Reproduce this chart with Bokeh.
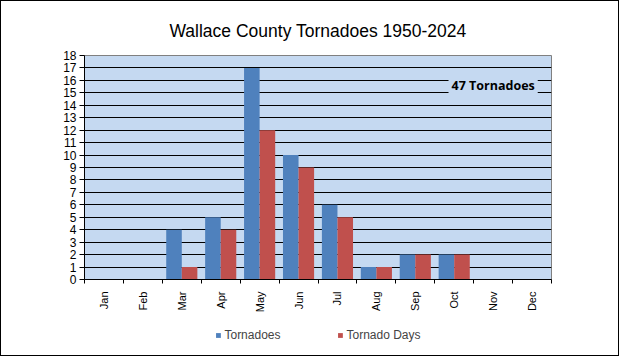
from math import pi
from bokeh.plotting import figure
from bokeh.layouts import column
from bokeh.models import (ColumnDataSource, FactorRange, Range1d, LinearAxis, FixedTicker,
                          Legend, LegendItem, Label, CustomJSTickFormatter)
from bokeh.transform import dodge
from bokeh.embed import file_html
from bokeh.resources import INLINE

# ---- data ----
months = ["Jan", "Feb", "Mar", "Apr", "May", "Jun", "Jul", "Aug", "Sep", "Oct", "Nov", "Dec"]
tornadoes = [0, 0, 4, 5, 17, 10, 6, 1, 2, 2, 0, 0]
tornado_days = [0, 0, 1, 4, 12, 9, 5, 1, 2, 2, 0, 0]
y_ticks = list(range(0, 19))
title_text = "Wallace County Tornadoes 1950-2024"
total_text = "47 Tornadoes"
series_names = ["Tornadoes", "Tornado Days"]

BLUE = "#4F81BD"
RED = "#C0504D"
PLOT_BG = "#C5D9F1"

src = ColumnDataSource(dict(month=months, tornadoes=tornadoes, days=tornado_days))

p = figure(width=617, height=314,
           x_range=FactorRange(*months, range_padding=0, factor_padding=0),
           y_range=Range1d(0, 18),
           output_backend="svg", toolbar_location=None,
           x_axis_location=None,
           min_border_left=83, min_border_right=67, min_border_top=54, min_border_bottom=35,
           title=title_text)

p.background_fill_color = PLOT_BG
p.border_fill_color = "white"
p.outline_line_color = "#808080"
p.outline_line_width = 1

p.title.text_font = "Liberation Sans"
p.title.text_font_size = "17.5px"
p.title.text_font_style = "normal"
p.title.text_color = "black"
p.title.align = "center"
p.title.standoff = 29

# bars
r1 = p.vbar(x=dodge("month", -0.2, range=p.x_range), top="tornadoes", width=0.4,
            source=src, fill_color=BLUE, line_color=None)
r2 = p.vbar(x=dodge("month", 0.2, range=p.x_range), top="days", width=0.4,
            source=src, fill_color=RED, line_color=None)

# y axis
yax = p.yaxis[0]
yax.ticker = FixedTicker(ticks=y_ticks)
yax.axis_line_color = "black"
yax.major_tick_line_color = "black"
yax.major_tick_in = 0
yax.major_tick_out = 5
yax.minor_tick_line_color = None
yax.major_label_standoff = 3
yax.major_label_text_font = "Liberation Sans"
yax.major_label_text_font_size = "12px"
yax.major_label_text_color = "black"

p.ygrid.ticker = FixedTicker(ticks=y_ticks)
p.ygrid.grid_line_color = "black"
p.ygrid.grid_line_width = 1
p.xgrid.grid_line_color = None

# x axis: labels at category centres, tick marks at category boundaries
xax = LinearAxis(ticker=FixedTicker(ticks=[i + 0.5 for i in range(len(months))],
                                    minor_ticks=list(range(len(months) + 1))),
                 formatter=CustomJSTickFormatter(args=dict(labels=months),
                                                 code="return labels[Math.floor(tick)] || ''"))
xax.axis_line_color = "black"
xax.major_tick_line_color = None
xax.major_tick_in = 0
xax.major_tick_out = 0
xax.minor_tick_line_color = "black"
xax.minor_tick_in = 0
xax.minor_tick_out = 4
xax.major_label_orientation = pi / 2
xax.major_label_standoff = 8
xax.major_label_text_font = "Liberation Sans"
xax.major_label_text_font_size = "11px"
xax.major_label_text_color = "black"
p.add_layout(xax, "below")

# annotation
lbl = Label(x=10.5, y=15.6, text=total_text, text_align="center", text_baseline="middle",
            text_font="Open Sans", text_font_style="bold", text_font_size="12.5px",
            text_color="black", background_fill_color=PLOT_BG, padding=3)
p.add_layout(lbl)

# legend strip (separate small figure under the chart; its bars have zero width
# and lie outside its view, so only the legend swatches show)
pl = figure(width=617, height=40,
            x_range=FactorRange(*months, range_padding=0, factor_padding=0),
            y_range=Range1d(-20, -19),
            output_backend="svg", toolbar_location=None,
            x_axis_location=None, y_axis_location=None,
            min_border_left=8, min_border_right=0, min_border_top=0, min_border_bottom=0)
pl.outline_line_color = None
pl.background_fill_color = "white"
pl.border_fill_color = "white"
pl.xgrid.grid_line_color = None
pl.ygrid.grid_line_color = None
lr1 = pl.vbar(x="month", top="tornadoes", bottom="tornadoes", width=0,
              source=src, fill_color=BLUE, line_color=None)
lr2 = pl.vbar(x="month", top="days", bottom="days", width=0,
              source=src, fill_color=RED, line_color=None)

legend = Legend(items=[LegendItem(label=series_names[0], renderers=[lr1]),
                       LegendItem(label=series_names[1], renderers=[lr2])],
                orientation="horizontal", location="center",
                border_line_color=None, background_fill_alpha=0,
                glyph_width=6, glyph_height=6, label_standoff=4, spacing=56,
                label_height=14,
                label_text_font="Liberation Sans", label_text_font_size="12px",
                padding=0, margin=0)
pl.add_layout(legend, "center")

layout = column(p, pl, spacing=0, styles={"border": "1px solid black"})

open("out.html", "w").write(file_html(layout, INLINE))
